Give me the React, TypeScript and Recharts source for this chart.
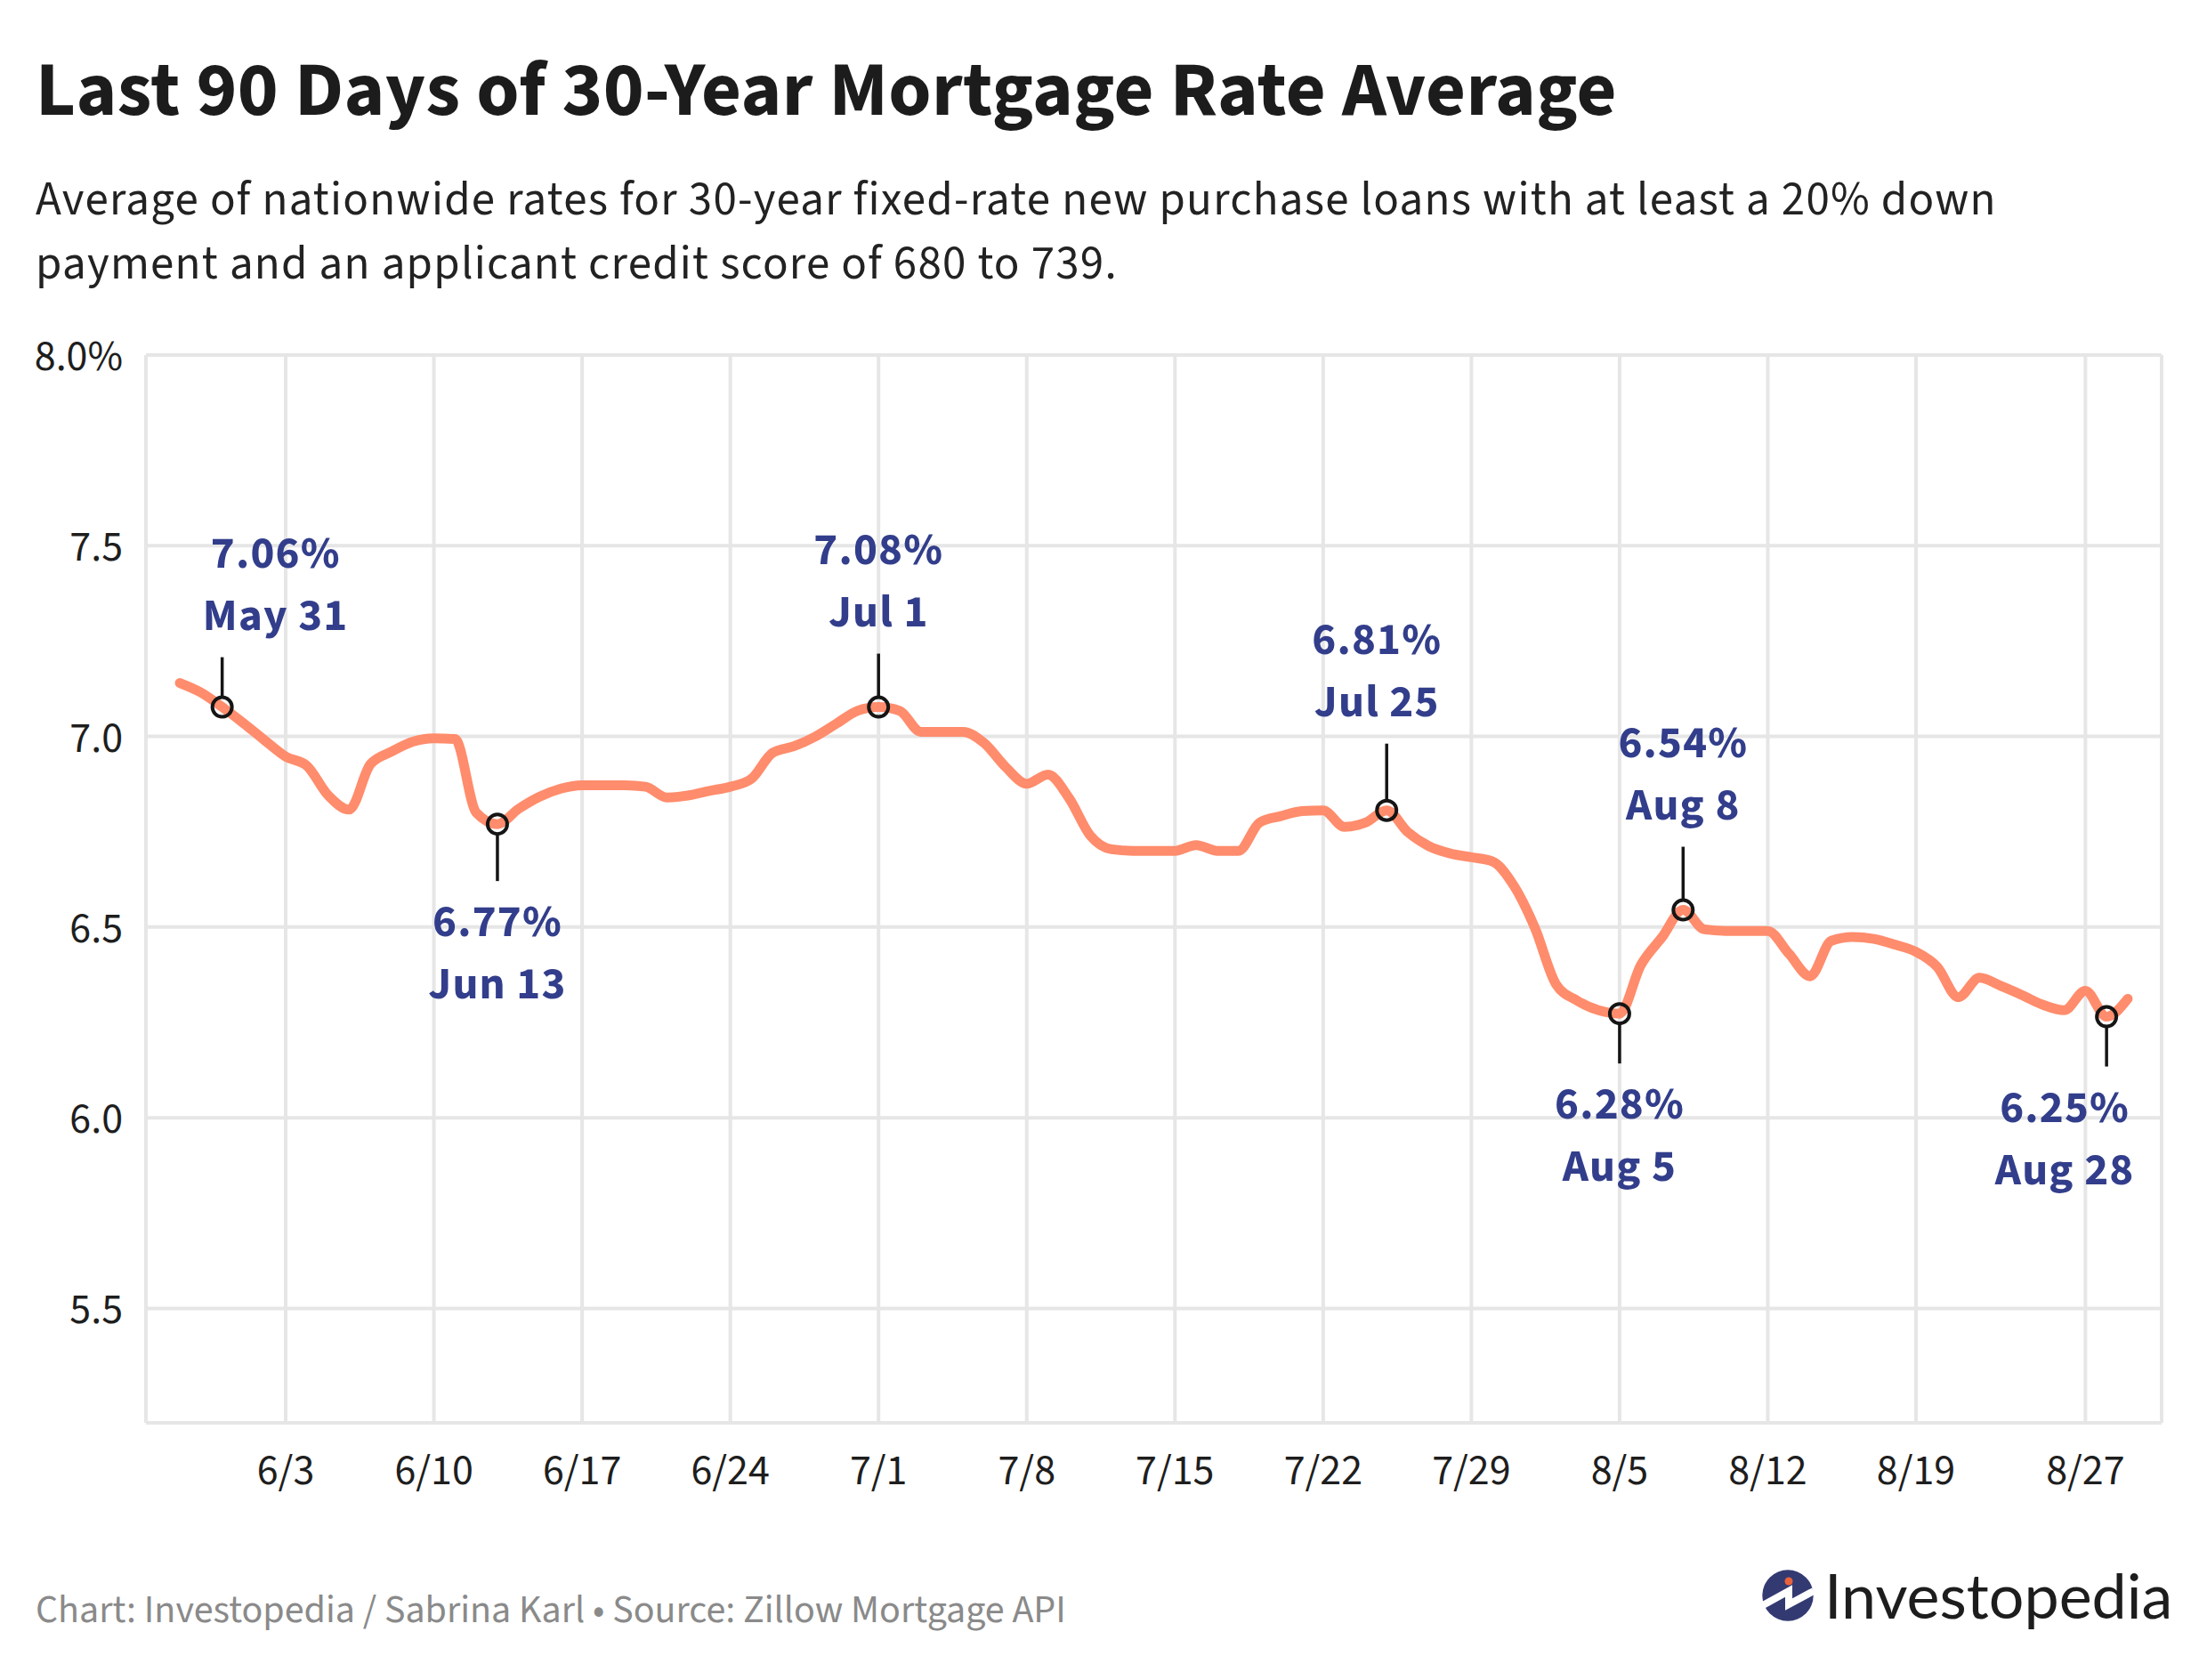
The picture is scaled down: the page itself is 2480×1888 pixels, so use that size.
import React from 'react';
import { LineChart, Line, XAxis, YAxis, CartesianGrid } from 'recharts';

// ---- data ----
const dates = [
  '5/29', '5/30', '5/31', '6/1', '6/2', '6/3', '6/4', '6/5', '6/6', '6/7', '6/8', '6/9', '6/10', '6/11', '6/12',
  '6/13', '6/14', '6/15', '6/16', '6/17', '6/18', '6/19', '6/20', '6/21', '6/22', '6/23', '6/24', '6/25', '6/26',
  '6/27', '6/28', '6/29', '6/30', '7/1', '7/2', '7/3', '7/4', '7/5', '7/6', '7/7', '7/8', '7/9', '7/10', '7/11',
  '7/12', '7/13', '7/14', '7/15', '7/16', '7/17', '7/18', '7/19', '7/20', '7/21', '7/22', '7/23', '7/24', '7/25',
  '7/26', '7/27', '7/28', '7/29', '7/30', '7/31', '8/1', '8/2', '8/3', '8/4', '8/5', '8/6', '8/7', '8/8', '8/9',
  '8/10', '8/11', '8/12', '8/13', '8/14', '8/15', '8/16', '8/17', '8/18', '8/19', '8/20', '8/21', '8/22', '8/23',
  '8/24', '8/25', '8/26', '8/27', '8/28', '8/29',
];

const rates = [
  7.14, 7.115, 7.077, 7.035, 6.99, 6.947, 6.923, 6.846, 6.808, 6.927, 6.96, 6.986, 6.995, 6.993, 6.80,
  6.77, 6.81, 6.842, 6.863, 6.872, 6.872, 6.872, 6.868, 6.84, 6.845, 6.857, 6.868, 6.889, 6.957,
  6.974, 6.999, 7.033, 7.067, 7.077, 7.067, 7.012, 7.012, 7.012, 6.982, 6.92, 6.876, 6.90, 6.838, 6.74,
  6.704, 6.70, 6.70, 6.70, 6.715, 6.70, 6.70, 6.774, 6.791, 6.804, 6.806, 6.763, 6.774, 6.806,
  6.749, 6.712, 6.693, 6.683, 6.672, 6.609, 6.498, 6.35, 6.307, 6.282, 6.273, 6.40, 6.473, 6.545, 6.494,
  6.49, 6.49, 6.49, 6.43, 6.371, 6.464, 6.474, 6.469, 6.454, 6.435, 6.396, 6.316, 6.367, 6.346,
  6.322, 6.296, 6.282, 6.333, 6.265, 6.312,
];

const xTickLabels = ['6/3', '6/10', '6/17', '6/24', '7/1', '7/8', '7/15', '7/22', '7/29', '8/5', '8/12', '8/19', '8/27'];
const yTicks = [5.5, 6.0, 6.5, 7.0, 7.5, 8.0];

const annotationDates = ['5/31', '6/13', '7/1', '7/25', '8/5', '8/8', '8/28'];
const annotationValues = ['7.06%', '6.77%', '7.08%', '6.81%', '6.28%', '6.54%', '6.25%'];
const annotationNames = ['May 31', 'Jun 13', 'Jul 1', 'Jul 25', 'Aug 5', 'Aug 8', 'Aug 28'];

const TITLE = 'Last 90 Days of 30-Year Mortgage Rate Average';
const SUBTITLE_1 = 'Average of nationwide rates for 30-year fixed-rate new purchase loans with at least a 20% down';
const SUBTITLE_2 = 'payment and an applicant credit score of 680 to 739.';
const FOOTER = 'Chart: Investopedia / Sabrina Karl \u2022 Source: Zillow Mortgage API';
const LOGO = 'Investopedia';

// ---- layout / style ----
const W = 2480;
const H = 1888;
const FONT = "'Source Sans Pro', 'Source Sans 3', Lato, sans-serif";
const LINE_COLOR = '#FF8C6C';
const LABEL_COLOR = '#323E8B';
const GRID_COLOR = '#E6E6E6';

const annotationLayout: Record<string, { side: 'above' | 'below'; len: number; dx: number }> = {
  '5/31': { side: 'above', len: 56, dx: 60 },
  '6/13': { side: 'below', len: 64, dx: 0 },
  '7/1': { side: 'above', len: 60, dx: 0 },
  '7/25': { side: 'above', len: 75, dx: -11 },
  '8/5': { side: 'below', len: 56, dx: 0 },
  '8/8': { side: 'above', len: 71, dx: 0 },
  '8/28': { side: 'below', len: 56, dx: -47 },
};

// day offset since May 29
const monthStart: Record<number, number> = { 5: -29, 6: 2, 7: 32, 8: 63 };
const toDay = (md: string) => {
  const [m, d] = md.split('/').map(Number);
  return monthStart[m] + d;
};

const chartData = dates.map((d, i) => ({ day: toDay(d), rate: rates[i] }));
const xTicks = xTickLabels.map(toDay);
const tickLabelByDay: Record<number, string> = {};
xTickLabels.forEach((l) => (tickLabelByDay[toDay(l)] = l));

const renderDot = (props: any) => {
  const { cx, cy, index } = props;
  const key = `dot-${index}`;
  const date = dates[index];
  const ai = annotationDates.indexOf(date);
  if (ai < 0 || cx == null || cy == null) return <g key={key} />;
  const lay = annotationLayout[date];
  const r = 11;
  const lx = cx + lay.dx;
  let y1: number, y2: number, valY: number, nameY: number;
  if (lay.side === 'above') {
    y1 = cy - r;
    y2 = cy - lay.len;
    nameY = y2 - 31;
    valY = nameY - 70;
  } else {
    y1 = cy + r;
    y2 = cy + lay.len;
    valY = y2 + 62;
    nameY = valY + 70;
  }
  const textStyle = { fontFamily: FONT, fontWeight: 700, fontSize: 51, letterSpacing: 1.2, fill: LABEL_COLOR } as any;
  return (
    <g key={key}>
      <line x1={cx} x2={cx} y1={y1} y2={y2} stroke="#151515" strokeWidth={3.5} />
      <circle cx={cx} cy={cy} r={r} fill="none" stroke="#151515" strokeWidth={4} />
      <text x={lx} y={valY} textAnchor="middle" style={textStyle}>
        {annotationValues[ai]}
      </text>
      <text x={lx} y={nameY} textAnchor="middle" style={textStyle}>
        {annotationNames[ai]}
      </text>
    </g>
  );
};

export default function App() {
  return (
    <div style={{ position: 'absolute', left: 0, top: 0, width: W, height: H, background: '#fff', overflow: 'hidden' }}>
      <svg width={W} height={H} style={{ position: 'absolute', left: 0, top: 0 }}>
        <text x={40} y={129} style={{ fontFamily: FONT, fontWeight: 700, fontSize: 87, letterSpacing: 0.4, fill: '#1c1c1c' }}>
          {TITLE}
        </text>
        <text x={40} y={241} style={{ fontFamily: FONT, fontWeight: 400, fontSize: 53, letterSpacing: 1.25, fill: '#222' }}>
          {SUBTITLE_1}
        </text>
        <text x={40} y={313} style={{ fontFamily: FONT, fontWeight: 400, fontSize: 53, letterSpacing: 1.25, fill: '#222' }}>
          {SUBTITLE_2}
        </text>
        <text x={40} y={1823} style={{ fontFamily: FONT, fontWeight: 400, fontSize: 44, fill: '#8a8a8a' }}>
          {FOOTER}
        </text>
        <g>
          <circle cx={2009} cy={1793} r={28.7} fill="#333A72" />
          <polyline
            points="1981,1804 2010,1788 2010,1803 2038,1788"
            fill="none"
            stroke="#fff"
            strokeWidth={8}
            strokeLinejoin="miter"
          />
          <circle cx={2010} cy={1777} r={4.5} fill="#E8623A" />
          <text x={2050} y={1819} style={{ fontFamily: 'Lato, sans-serif', fontWeight: 400, fontSize: 70, fill: '#1d1d1d' }}>
            {LOGO}
          </text>
        </g>
      </svg>
      <div style={{ position: 'absolute', left: 0, top: 0 }}>
        <LineChart width={W} height={H} data={chartData} margin={{ top: 399, right: 51, bottom: 229, left: 64 }}>
          <CartesianGrid stroke={GRID_COLOR} strokeWidth={4} />
          <XAxis
            dataKey="day"
            type="number"
            domain={[-1.6, 93.6]}
            ticks={xTicks}
            height={60}
            axisLine={false}
            tickLine={false}
            tickSize={0}
            tickMargin={35}
            interval={0}
            tickFormatter={(v: number) => tickLabelByDay[v] ?? ''}
            tick={{ fill: '#1e1e1e', fontSize: 48, fontFamily: FONT }}
          />
          <YAxis
            type="number"
            domain={[5.2, 8.0]}
            ticks={yTicks}
            width={100}
            axisLine={false}
            tickLine={false}
            tickSize={0}
            tickMargin={26}
            interval={0}
            allowDataOverflow
            tickFormatter={(v: number) => (v === 8 ? '8.0%' : v.toFixed(1))}
            tick={{ fill: '#1e1e1e', fontSize: 48, fontFamily: FONT }}
          />
          <Line
            type="monotone"
            dataKey="rate"
            stroke={LINE_COLOR}
            strokeWidth={11}
            strokeLinecap="round"
            strokeLinejoin="round"
            dot={renderDot}
            activeDot={false}
            isAnimationActive={false}
          />
        </LineChart>
      </div>
    </div>
  );
}
